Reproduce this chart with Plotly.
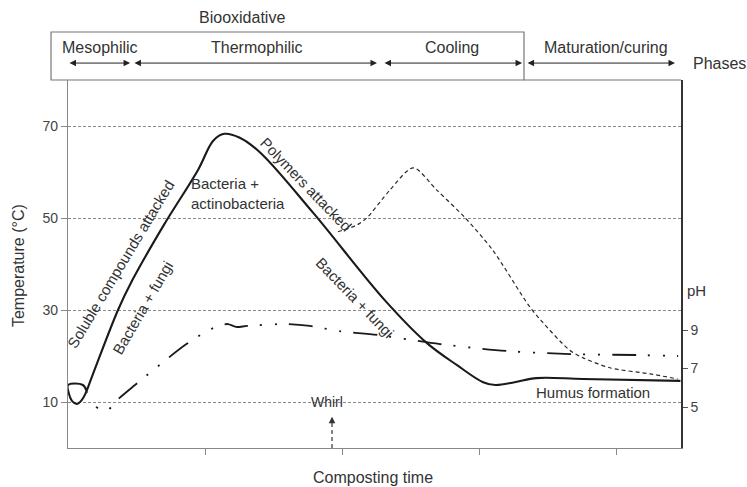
import plotly.graph_objects as go

FONT = "Liberation Sans, Arial, Helvetica, sans-serif"
TEXT = "#333333"
INK = "#1a1a1a"

# Temperature during composting (solid line), time in arbitrary units
time_temp = [0.139, 0.109, 0.0, 0.005, 0.03, 0.066, 0.10, 0.13, 0.18, 0.365, 0.47,
             0.70, 0.95, 1.06, 1.14, 1.25, 1.40, 1.79, 2.31, 2.62, 2.84, 3.03,
             3.12, 3.26, 3.42, 3.76, 4.47]
temp = [12.0, 13.7, 13.7, 12.0, 10.2, 9.6, 10.4, 12.0, 15.9, 30.0, 36.5,
        48.5, 60.5, 66.8, 68.3, 67.5, 64.3, 51.1, 32.2, 22.8, 18.0, 14.3,
        13.7, 14.3, 15.2, 15.0, 14.6]

# Temperature rise after turning the pile (thin dashed line)
time_reheat = [1.97, 2.11, 2.18, 2.35, 2.52, 2.69, 2.90, 3.10, 3.36, 3.45, 3.66,
               3.76, 3.96, 4.25, 4.45]
temp_reheat = [47.0, 48.5, 50.0, 56.1, 60.9, 56.1, 50.0, 43.0, 31.1, 27.8, 21.3,
               19.6, 17.4, 16.1, 15.0]

# pH (dash-dot-dot line, right axis)
time_ph = [0.204, 0.285, 0.343, 0.489, 0.642, 0.854, 1.029, 1.124, 1.168, 1.226,
           1.307, 1.584, 1.766, 1.971, 2.263, 2.715, 3.204, 3.664, 4.153, 4.453]
ph = [5.0, 4.8, 5.26, 6.14, 7.03, 8.22, 9.0, 9.26, 9.31, 9.16,
      9.21, 9.31, 9.21, 8.95, 8.74, 8.27, 7.91, 7.75, 7.70, 7.65]

# Phases of composting and their extents on the time axis
phase_names = ["Mesophilic", "Thermophilic", "Cooling", "Maturation/curing"]
phase_start = [0.0, 0.474, 2.299, 3.343]
phase_end = [0.453, 2.255, 3.314, 4.43]
phase_label_x = [0.234, 1.38, 2.80, 3.93]

temp_ticks = [10, 30, 50, 70]
ph_ticks = [5, 7, 9]
time_ticks = [1, 2, 3, 4]

X_MAX = 4.474
TEMP_RANGE = [0, 80]
PH_RANGE = [2.87, 21.99]
BOX_LEFT = -0.124
WHIRL_TIME = 1.927


def to_paper(x):
    return x / X_MAX


fig = go.Figure()

fig.add_trace(go.Scatter(
    x=time_temp, y=temp, mode="lines",
    line=dict(color=INK, width=2.1, shape="spline", smoothing=1.0),
    hoverinfo="skip"))

fig.add_trace(go.Scatter(
    x=time_reheat, y=temp_reheat, mode="lines",
    line=dict(color="#2a2a2a", width=1.2, dash="4px,3px", shape="spline", smoothing=0.8),
    hoverinfo="skip"))

fig.add_trace(go.Scatter(
    x=time_ph, y=ph, mode="lines", yaxis="y2",
    line=dict(color=INK, width=1.8, dash="2px,13px,2px,12px,24px,12px",
              shape="spline", smoothing=0.8),
    hoverinfo="skip"))

annotations = []

# Curve labels
def label(text, x, y, angle=0, size=15, **kw):
    annotations.append(dict(text=text, x=x, y=y, xref="x", yref="y", showarrow=False,
                            textangle=angle, font=dict(size=size, color=TEXT),
                            xanchor=kw.get("xanchor", "center"), yanchor="middle",
                            align=kw.get("align", "center")))

label("Soluble compounds attacked", 0.38, 40.0, angle=-59)
label("Bacteria + fungi", 0.545, 30.6, angle=-60)
label("Bacteria +<br>actinobacteria", 0.885, 55.3, xanchor="left", align="left")
label("Polymers attacked", 1.737, 57.2, angle=46)
label("Bacteria + fungi", 2.095, 32.8, angle=46)
label("Humus formation", 3.83, 12.0)
label("Whirl", 1.89, 10.0, size=14)

# Turning arrow
fig.add_shape(type="line", xref="x", yref="y", x0=WHIRL_TIME, x1=WHIRL_TIME,
              y0=0, y1=6.0, line=dict(color="#333", width=1.2, dash="4px,3px"))
annotations.append(dict(text="", x=WHIRL_TIME, y=6.8, xref="x", yref="y",
                        ax=WHIRL_TIME, ay=5.6, axref="x", ayref="y", showarrow=True,
                        arrowhead=2, arrowsize=1.1, arrowwidth=1.2, arrowcolor="#333"))

# Phase arrows and labels
ARROW_Y = 1.046
LABEL_Y = 1.087
for name, s, e, lx in zip(phase_names, phase_start, phase_end, phase_label_x):
    annotations.append(dict(text="", x=e, y=ARROW_Y, xref="x", yref="paper",
                            ax=s, ay=0, axref="x", ayref="pixel", showarrow=True,
                            arrowside="end+start", arrowhead=2, arrowsize=1.3,
                            arrowwidth=1, arrowcolor="#222"))
    annotations.append(dict(text=name, x=lx, y=LABEL_Y, xref="x", yref="paper",
                            showarrow=False, font=dict(size=16, color=TEXT),
                            xanchor="center", yanchor="middle"))

annotations.append(dict(text="Phases", x=1.062, y=ARROW_Y, xref="paper", yref="paper",
                        showarrow=False, font=dict(size=16, color=TEXT),
                        xanchor="center", yanchor="middle"))
annotations.append(dict(text="Biooxidative", x=to_paper(1.27), y=1.171, xref="paper",
                        yref="paper", showarrow=False, font=dict(size=16, color=TEXT),
                        xanchor="center", yanchor="middle"))

# Axis titles
annotations.append(dict(text="Temperature (°C)", x=-0.0816, y=0.497, xref="paper",
                        yref="paper", showarrow=False, textangle=-90,
                        font=dict(size=16, color=TEXT), xanchor="center", yanchor="middle"))
annotations.append(dict(text="Composting time", x=to_paper(2.226), y=-0.0815,
                        xref="paper", yref="paper", showarrow=False,
                        font=dict(size=16, color=TEXT), xanchor="center", yanchor="middle"))
annotations.append(dict(text="pH", x=1.026, y=0.427, xref="paper", yref="paper",
                        showarrow=False, font=dict(size=15, color=TEXT),
                        xanchor="center", yanchor="middle"))

# Biooxidative box and top border
fig.add_shape(type="rect", xref="paper", yref="paper",
              x0=to_paper(BOX_LEFT), x1=to_paper(phase_end[2] + 0.014), y0=1.0, y1=1.1304,
              line=dict(color="#777", width=1.2))
fig.add_shape(type="line", xref="paper", yref="paper",
              x0=to_paper(phase_end[2] + 0.014), x1=1.0, y0=1.0, y1=1.0,
              line=dict(color="#777", width=1.2))

fig.update_layout(
    width=747, height=487,
    margin=dict(l=68, r=66, t=80, b=39),
    plot_bgcolor="white", paper_bgcolor="white",
    showlegend=False,
    font=dict(family=FONT, size=15, color=TEXT),
    annotations=annotations,
    xaxis=dict(range=[0, X_MAX], showline=True, linecolor="#888", linewidth=1.2,
               ticks="outside", ticklen=6, tickcolor="#888", tickvals=time_ticks,
               showticklabels=False, showgrid=False, zeroline=False),
    yaxis=dict(range=TEMP_RANGE, showline=True, linecolor="#888", linewidth=1.2,
               ticks="outside", ticklen=6, tickcolor="#888", tickvals=temp_ticks,
               tickfont=dict(size=14, color="#444"),
               showgrid=True, gridcolor="#8a8a8a", griddash="3px,2px", gridwidth=1,
               zeroline=False),
    yaxis2=dict(range=PH_RANGE, overlaying="y", side="right", showline=True,
                linecolor="#333", linewidth=1.5, ticks="outside", ticklen=5,
                tickcolor="#555", tickvals=ph_ticks, tickfont=dict(size=14, color="#444"),
                showgrid=False, zeroline=False),
)

fig.write_html("out.html")
